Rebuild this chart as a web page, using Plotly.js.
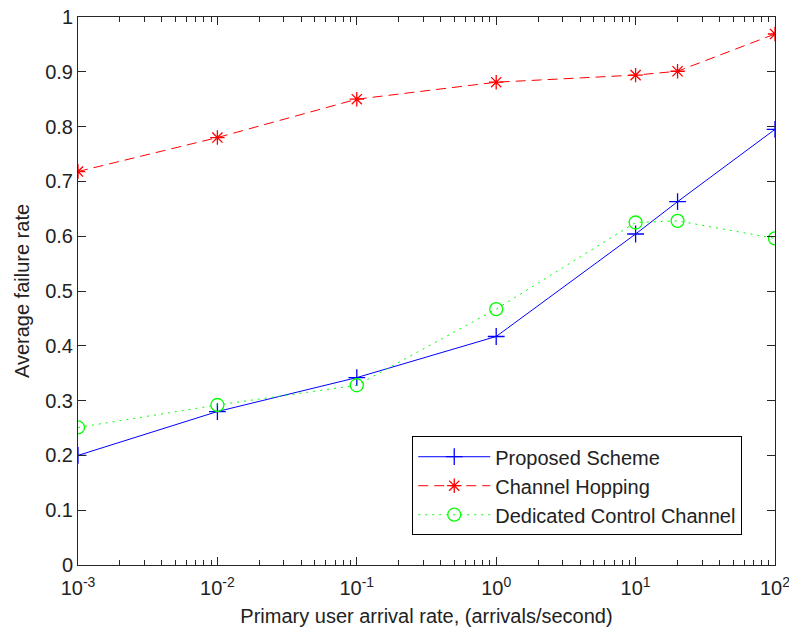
<!DOCTYPE html>
<html>
<head>
<meta charset="utf-8">
<script src="https://cdn.plot.ly/plotly-3.0.1.min.js"></script>
<style>html,body{margin:0;padding:0;background:#fff;}#chart{width:789px;height:635px;}</style>
</head>
<body>
<div id="chart"></div>
<script>
const arrivalRates = [0.001, 0.01, 0.1, 1, 10, 20, 100];
const proposedScheme = [0.200, 0.280, 0.342, 0.417, 0.604, 0.663, 0.795];
const channelHopping = [0.718, 0.780, 0.850, 0.881, 0.894, 0.901, 0.969];
const dedicatedControl = [0.251, 0.292, 0.328, 0.467, 0.625, 0.628, 0.596];
const xTickVals = [0.001, 0.01, 0.1, 1, 10, 100];
const xTickText = ['10<sup>-3</sup>', '10<sup>-2</sup>', '10<sup>-1</sup>', '10<sup>0</sup>', '10<sup>1</sup>', '10<sup>2</sup>'];
const yTickVals = [0, 0.1, 0.2, 0.3, 0.4, 0.5, 0.6, 0.7, 0.8, 0.9, 1];
const yTickText = ['0', '0.1', '0.2', '0.3', '0.4', '0.5', '0.6', '0.7', '0.8', '0.9', '1'];

const font = {family: 'Liberation Sans, Arial, sans-serif', size: 20, color: '#222222'};

const traces = [
  {x: arrivalRates, y: proposedScheme, name: 'Proposed Scheme', type: 'scatter', mode: 'lines+markers',
   legendgroup: 'a',
   line: {color: '#0000ff', width: 1, dash: 'solid'},
   marker: {symbol: 'cross-thin-open', size: 12, color: '#0000ff', line: {color: '#0000ff', width: 1.3}}},
  {x: arrivalRates, y: channelHopping, name: 'Channel Hopping', type: 'scatter', mode: 'lines+markers',
   legendgroup: 'b',
   line: {color: '#ff0000', width: 1, dash: '10px,6px'},
   marker: {symbol: 'asterisk-open', size: 12, color: '#ff0000', line: {color: '#ff0000', width: 1.3}}},
  {x: arrivalRates, y: dedicatedControl, name: 'Dedicated Control Channel', type: 'scatter', mode: 'lines+markers',
   legendgroup: 'c',
   line: {color: '#00ff00', width: 1, dash: '2px,5px'},
   marker: {symbol: 'circle-open', size: 13, color: '#00ff00', line: {color: '#00ff00', width: 1.3}}}
];

const layout = {
  width: 789, height: 635,
  margin: {l: 78, r: 14, t: 17, b: 70},
  paper_bgcolor: '#fff', plot_bgcolor: '#fff',
  font: font,
  showlegend: true,
  xaxis: {
    type: 'log', range: [-3, 2],
    tickvals: xTickVals, ticktext: xTickText,
    ticks: 'inside', ticklen: 8, tickwidth: 1, tickcolor: '#262626',
    ticklabeloverflow: 'allow', ticklabelstandoff: 5,
    showline: true, linecolor: '#262626', linewidth: 1, mirror: 'ticks',
    showgrid: false, zeroline: false,
    minor: {ticks: 'inside', ticklen: 5, tickwidth: 1, tickcolor: '#262626', dtick: 'D1', showgrid: false},
    tickfont: font,
    title: {text: 'Primary user arrival rate, (arrivals/second)', font: font, standoff: 10}
  },
  yaxis: {
    range: [0, 1],
    tickvals: yTickVals, ticktext: yTickText,
    ticks: 'inside', ticklen: 8, tickwidth: 1, tickcolor: '#262626',
    ticklabeloverflow: 'allow',
    showline: true, linecolor: '#262626', linewidth: 1, mirror: 'ticks',
    showgrid: false, zeroline: false,
    tickfont: font,
    title: {text: 'Average failure rate', font: font, standoff: 10}
  },
  legend: {
    x: 0.953, xanchor: 'right', y: 0.235, yanchor: 'top',
    bgcolor: '#fff', bordercolor: '#000', borderwidth: 1,
    font: font, itemwidth: 72, traceorder: 'grouped', tracegroupgap: 0
  }
};

Plotly.newPlot('chart', traces, layout, {displayModeBar: false, staticPlot: true});
</script>
</body>
</html>
